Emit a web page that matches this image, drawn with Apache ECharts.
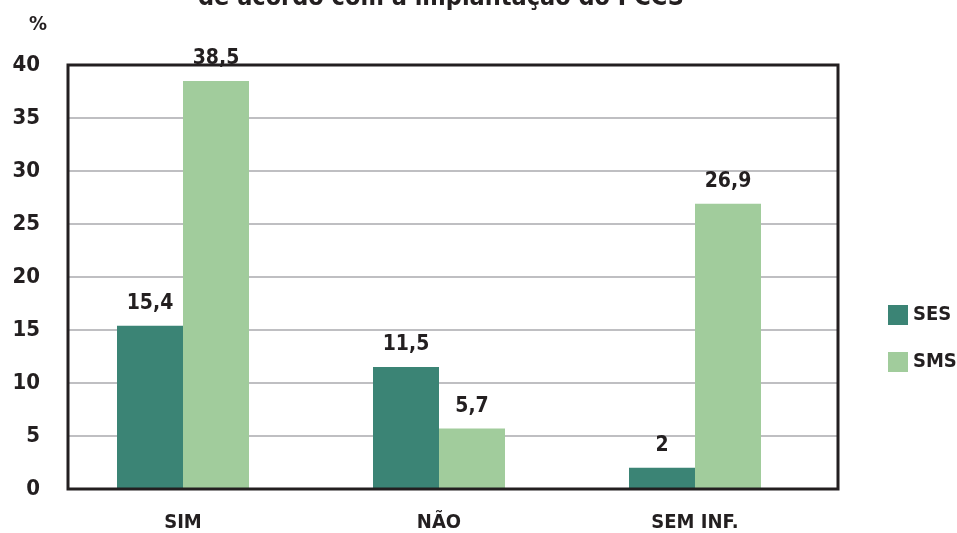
<!DOCTYPE html>
<html>
<head>
    <meta charset="UTF-8">
    <title>PCCS</title>
    <script src="https://cdn.jsdelivr.net/npm/echarts@6/dist/echarts.min.js"></script>
    <style>
        html, body { margin: 0; padding: 0; background: #fff; }
        #main { width: 957px; height: 533px; }
    </style>
</head>
<body>
<div id="main"></div>
<script type="text/javascript">
    // dados
    var categorias = ['SIM', 'NÃO', 'SEM INF.'];
    var valoresSES = [15.4, 11.5, 2];
    var valoresSMS = [38.5, 5.7, 26.9];
    var ticksY = [0, 5, 10, 15, 20, 25, 30, 35, 40];

    var fonte = "'Liberation Sans Narrow', 'DejaVu Sans Condensed', 'Noto Sans', sans-serif";
    var texto = '#231f20';

    function virgula(p) {
        return String(p.value).replace('.', ',');
    }

    var myChart = echarts.init(document.getElementById('main'));

    var option = {
        animation: false,
        title: {
            text: 'de acordo com a implantação do PCCS',
            left: 436,
            textAlign: 'center',
            top: -19,
            textStyle: { fontFamily: fonte, fontWeight: 'bold', fontSize: 25, color: texto }
        },
        legend: {
            orient: 'vertical',
            left: 883,
            top: 300,
            itemWidth: 20,
            itemHeight: 20,
            itemGap: 27,
            icon: 'rect',
            data: ['SES', 'SMS'],
            textStyle: { fontFamily: fonte, fontWeight: 'bold', fontSize: 20, color: texto, padding: [0, 0, 0, 0] }
        },
        grid: [
            // moldura, eixo y e linhas de grade
            { left: 68, right: 119, top: 65, bottom: 44, show: true, z: 5, borderColor: '#231f20', borderWidth: 3, backgroundColor: 'transparent' },
            // barras
            { left: 55, width: 768, top: 65, bottom: 44 }
        ],
        xAxis: [
            { gridIndex: 0, type: 'value', min: 0, max: 1, show: false },
            {
                gridIndex: 1,
                type: 'category',
                data: categorias,
                axisLine: { show: false },
                axisTick: { show: false },
                axisLabel: { margin: 24, fontFamily: fonte, fontWeight: 'bold', fontSize: 20, color: texto }
            }
        ],
        yAxis: [
            {
                gridIndex: 0,
                type: 'value',
                min: ticksY[0],
                max: ticksY[ticksY.length - 1],
                interval: 5,
                name: '%',
                nameLocation: 'end',
                nameGap: 30,
                nameTextStyle: { fontFamily: fonte, fontWeight: 'bold', fontSize: 20, color: texto, align: 'right', padding: [0, 21, 0, 0] },
                axisLine: { show: false },
                axisTick: { show: false },
                axisLabel: { margin: 28, fontFamily: fonte, fontWeight: 'bold', fontSize: 22, color: texto },
                splitLine: { lineStyle: { color: '#bfbfc2', width: 2 } }
            },
            { gridIndex: 1, type: 'value', min: 0, max: 40, show: false }
        ],
        series: [
            {
                name: 'SES',
                type: 'bar',
                xAxisIndex: 1,
                yAxisIndex: 1,
                barWidth: 66,
                barGap: '0%',
                itemStyle: { color: '#3b8475' },
                label: { show: true, position: 'top', distance: 12, formatter: virgula, fontFamily: fonte, fontWeight: 'bold', fontSize: 21, color: texto },
                data: valoresSES
            },
            {
                name: 'SMS',
                type: 'bar',
                xAxisIndex: 1,
                yAxisIndex: 1,
                barWidth: 66,
                barGap: '0%',
                itemStyle: { color: '#a1cc9c' },
                label: { show: true, position: 'top', distance: 12, formatter: virgula, fontFamily: fonte, fontWeight: 'bold', fontSize: 21, color: texto },
                data: valoresSMS
            }
        ]
    };

    myChart.setOption(option);
</script>
</body>
</html>
